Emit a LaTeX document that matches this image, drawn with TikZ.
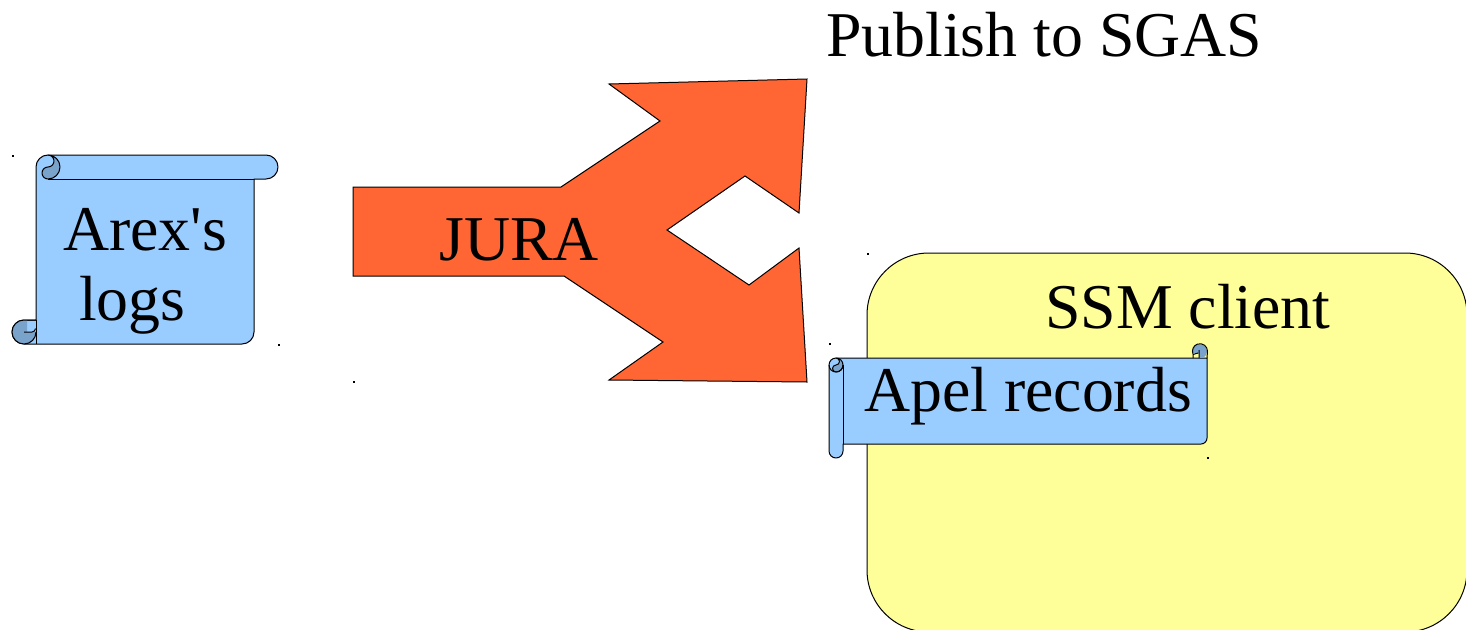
\documentclass[tikz,border=0pt]{standalone}
\usepackage{fontspec}
\setmainfont{Liberation Serif}[Ligatures=TeXOff]
\definecolor{scrollblue}{HTML}{99CCFF}
\definecolor{curlblue}{HTML}{7AA3CC}
\definecolor{arrowred}{HTML}{FF6633}
\definecolor{boxyellow}{HTML}{FFFF99}
\tikzset{
 x=1pt,y=-1pt,
 lbl/.style={inner sep=0pt,anchor=base west,font=\fontsize{63.8}{64}\selectfont,text=black},
 outline/.style={draw=black,line width=1pt,line join=round},
 scrollfill/.style={outline,fill=scrollblue},
 curlfill/.style={outline,fill=curlblue},
 speck/.style={fill=black,draw=none}
}
\begin{document}
\begin{tikzpicture}
\useasboundingbox (0,0) rectangle (1466,629);
\clip (0,0) rectangle (1466,629);
% yellow box
\draw[outline,fill=boxyellow,rounded corners=62pt] (867,253) rectangle (1467,632);
% specks
\foreach \p in {(12,155),(278,344),(353,381),(867,253),(829,343),(1207,457)}
  \fill[speck] \p rectangle ++(1.5,1.5);
% arrow
\draw[outline,fill=arrowred,line join=miter]
 (353,187)--(561,187)--(660,121)--(609,84)--(807,79)--(799,213)--(745,176)--(667,230)--(749,285)--(799,248)--(807,382)--(609,380)--(663,342)--(564,276)--(353,276)--cycle;
% left scroll
\draw[scrollfill] (48,155) arc (-90:-180:12) -- (36,320) -- (24,320) arc (-90:-270:12)
  -- (242,344) arc (90:0:12) -- (254,179) -- (266,179) arc (90:-90:12) -- cycle;
\draw[outline] (48,179) -- (254,179);
\draw[curlfill] (48,155) arc (-90:90:12) arc (90:270:6) arc (90:-90:6) -- cycle;
% lower curl: dark disc with a light notch in its upper right
\fill[curlblue] (24,320) arc (-90:-270:12) arc (90:0:12) -- (36,332) -- (27,332) -- (27,320) -- cycle;
\draw[outline] (36,320) -- (24,320) arc (-90:-270:12) arc (90:0:12);
\draw[outline] (24,332) -- (32,332) arc (90:0:3.5);
\draw[outline] (36,320) -- (36,344);
% right scroll
\draw[scrollfill] (836,358) -- (1207,358) -- (1207,438) arc (0:90:6) -- (843,444) -- (843,451) arc (0:180:7) -- (829,365) arc (180:270:7) -- cycle;
\draw[outline] (843,365) -- (843,444);
\draw[curlfill] (836,358) arc (-90:90:7) arc (90:270:3.5) arc (90:-90:3.5) -- cycle;
\draw[outline] (829,365) arc (180:0:7);
% upper curl of the right scroll
\fill[curlblue] (1192.5,353) -- (1192.5,351.5) arc (180:360:7.25) arc (0:60:7.25) -- (1199,358) -- (1199,353) -- cycle;
\draw[outline] (1193,358) -- (1193,354) arc (158:360:7.5) -- (1207,358);
\draw[outline] (1193,354.5) -- (1198,353) (1199,350) -- (1199,358);
% labels
\node[lbl] (publish) at (826,56) {Publish to SGAS};
\node[lbl] (arex) at (63,250) {Arex's};
\node[lbl] (logs) at (79,320) {logs};
\node[lbl] (jura) at (439,260) {JURA};
\node[lbl] (ssm) at (1045,328.5) {SSM client};
\node[lbl] (apel) at (864,411) {Apel records};
\end{tikzpicture}
\end{document}
